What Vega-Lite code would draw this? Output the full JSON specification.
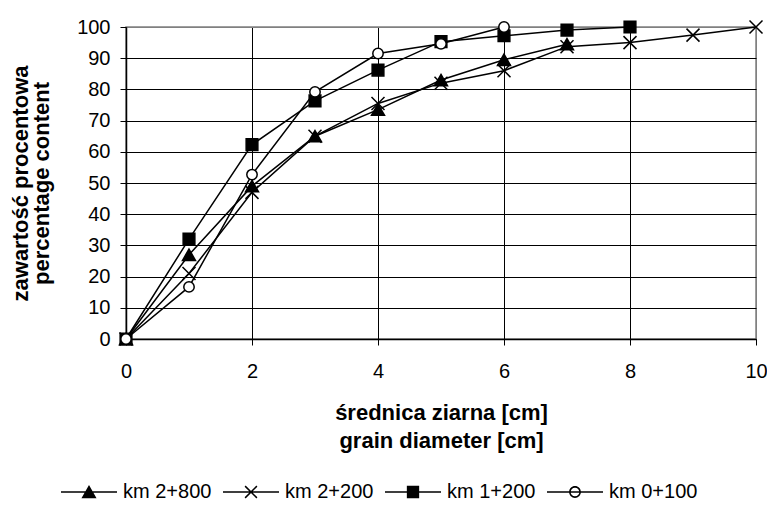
{
  "$schema": "https://vega.github.io/schema/vega-lite/v6.json",
  "width": 630,
  "height": 312,
  "autosize": {"type": "none"},
  "padding": {"left": 126, "top": 27, "right": 11, "bottom": 180},
  "background": "white",
  "config": {
    "font": "Liberation Sans",
    "view": {"stroke": "#808080", "strokeWidth": 1.5},
    "axis": {
      "labelFont": "Liberation Sans",
      "labelFontSize": 20,
      "labelColor": "black",
      "titleFont": "Liberation Sans",
      "titleFontSize": 22,
      "titleFontWeight": "bold",
      "titleColor": "black",
      "domainColor": "black",
      "domainWidth": 1.5,
      "tickColor": "black",
      "tickSize": 6,
      "tickWidth": 1,
      "gridWidth": 1,
      "gridOpacity": 1,
      "labelFlush": false,
      "labelOverlap": false
    }
  },
  "resolve": {"scale": {"shape": "independent"}},
  "data": {
    "values": [
      {"series": "km 2+800", "d": 0, "p": 0},
      {"series": "km 2+800", "d": 1, "p": 27},
      {"series": "km 2+800", "d": 2, "p": 49},
      {"series": "km 2+800", "d": 3, "p": 65},
      {"series": "km 2+800", "d": 4, "p": 73.5},
      {"series": "km 2+800", "d": 5, "p": 83},
      {"series": "km 2+800", "d": 6, "p": 89.5},
      {"series": "km 2+800", "d": 7, "p": 94.5},
      {"series": "km 2+200", "d": 0, "p": 0},
      {"series": "km 2+200", "d": 1, "p": 21},
      {"series": "km 2+200", "d": 2, "p": 47},
      {"series": "km 2+200", "d": 3, "p": 65},
      {"series": "km 2+200", "d": 4, "p": 75.5},
      {"series": "km 2+200", "d": 5, "p": 82},
      {"series": "km 2+200", "d": 6, "p": 86},
      {"series": "km 2+200", "d": 7, "p": 93.7},
      {"series": "km 2+200", "d": 8, "p": 95},
      {"series": "km 2+200", "d": 9, "p": 97.4},
      {"series": "km 2+200", "d": 10, "p": 100},
      {"series": "km 1+200", "d": 0, "p": 0},
      {"series": "km 1+200", "d": 1, "p": 32},
      {"series": "km 1+200", "d": 2, "p": 62.3},
      {"series": "km 1+200", "d": 3, "p": 76.3},
      {"series": "km 1+200", "d": 4, "p": 86.2},
      {"series": "km 1+200", "d": 5, "p": 95.3},
      {"series": "km 1+200", "d": 6, "p": 97.2},
      {"series": "km 1+200", "d": 7, "p": 99},
      {"series": "km 1+200", "d": 8, "p": 100},
      {"series": "km 0+100", "d": 0, "p": 0},
      {"series": "km 0+100", "d": 1, "p": 16.7},
      {"series": "km 0+100", "d": 2, "p": 52.7},
      {"series": "km 0+100", "d": 3, "p": 79.2},
      {"series": "km 0+100", "d": 4, "p": 91.5},
      {"series": "km 0+100", "d": 5, "p": 94.6},
      {"series": "km 0+100", "d": 6, "p": 100}
    ]
  },
  "encoding": {
    "x": {
      "field": "d",
      "type": "quantitative",
      "scale": {"domain": [0, 10], "nice": false, "zero": false},
      "axis": {
        "values": [0, 2, 4, 6, 8, 10],
        "title": ["średnica ziarna [cm]", "grain diameter [cm]"],
        "labelPadding": 16,
        "titlePadding": 21,
        "titleLineHeight": 28,
        "gridColor": {"condition": {"test": "datum.value === 10", "value": "#808080"}, "value": "black"}
      }
    },
    "y": {
      "field": "p",
      "type": "quantitative",
      "scale": {"domain": [0, 100], "nice": false},
      "axis": {
        "values": [0, 10, 20, 30, 40, 50, 60, 70, 80, 90, 100],
        "title": ["zawartość procentowa", "percentage content"],
        "labelPadding": 10,
        "titlePadding": 23,
        "titleLineHeight": 21,
        "gridColor": {"condition": {"test": "datum.value === 100", "value": "#808080"}, "value": "black"}
      }
    }
  },
  "layer": [
    {
      "mark": {"type": "line", "color": "black", "strokeWidth": 1.5},
      "encoding": {"detail": {"field": "series", "type": "nominal"}}
    },
    {
      "mark": {"type": "point", "filled": true, "stroke": "black", "strokeWidth": 1.5, "size": 169, "opacity": 1},
      "encoding": {
        "shape": {
          "field": "series",
          "type": "nominal",
          "scale": {
            "domain": ["km 2+800", "km 2+200", "km 1+200", "km 0+100"],
            "range": [
              "M0,-0.87L1,0.87L-1,0.87Z",
              "M-1,-1L1,1M-1,1L1,-1",
              "M-0.9,-0.9L0.9,-0.9L0.9,0.9L-0.9,0.9Z",
              "M-0.8,0A0.8,0.8 0 1,0 0.8,0A0.8,0.8 0 1,0 -0.8,0Z"
            ]
          },
          "legend": null
        },
        "fill": {
          "field": "series",
          "type": "nominal",
          "scale": {
            "domain": ["km 2+800", "km 2+200", "km 1+200", "km 0+100"],
            "range": ["black", "black", "black", "white"]
          },
          "legend": null
        }
      }
    },
    {
      "transform": [{"filter": "datum.d < 0"}],
      "mark": {"type": "point", "filled": true, "color": "black", "opacity": 1},
      "encoding": {
        "shape": {
          "field": "series",
          "type": "nominal",
          "scale": {
            "domain": ["km 2+800", "km 2+200", "km 1+200", "km 0+100"],
            "range": [
              "M-1,-0.027H1V0.027H-1ZM0,-0.25L0.27,0.22L-0.27,0.22Z",
              "M-1,-0.027H1V0.027H-1ZM-0.191,-0.229L0.229,0.191L0.191,0.229L-0.229,-0.191ZM-0.229,0.191L0.191,-0.229L0.229,-0.191L-0.191,0.229Z",
              "M-1,-0.027H1V0.027H-1ZM-0.22,-0.22L0.22,-0.22L0.22,0.22L-0.22,0.22Z",
              "M-1,-0.027H1V0.027H-1ZM-0.21,0A0.21,0.21 0 1,1 0.21,0A0.21,0.21 0 1,1 -0.21,0ZM-0.156,0A0.156,0.156 0 1,0 0.156,0A0.156,0.156 0 1,0 -0.156,0Z"
            ]
          },
          "legend": {
            "title": null,
            "orient": "none",
            "legendX": -65,
            "legendY": 437,
            "direction": "horizontal",
            "symbolSize": 3136,
            "symbolFillColor": "black",
            "symbolStrokeWidth": 0,
            "symbolOpacity": 1,
            "labelFont": "Liberation Sans",
            "labelFontSize": 20,
            "labelColor": "black",
            "labelOffset": 6,
            "columnPadding": 11
          }
        }
      }
    }
  ]
}
